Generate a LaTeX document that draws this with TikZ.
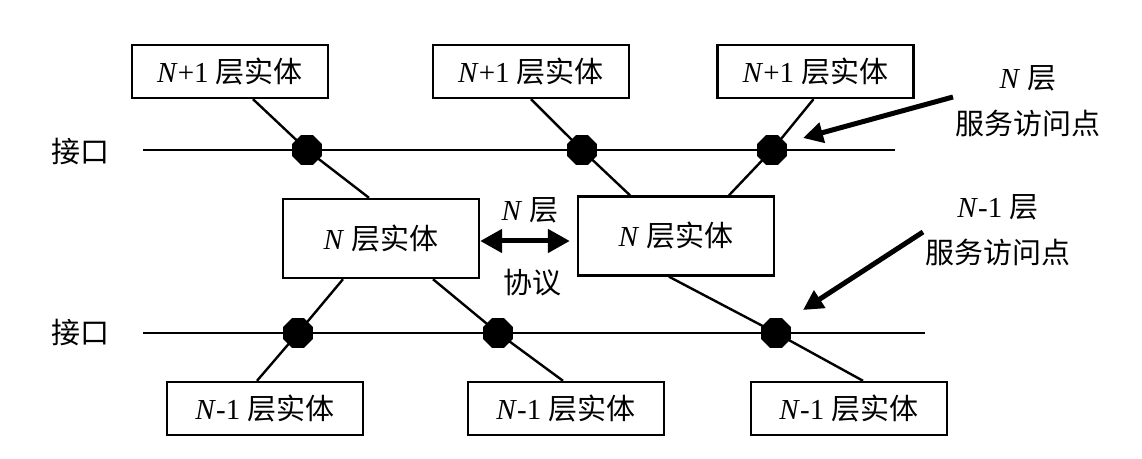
\documentclass[tikz,border=0pt]{standalone}
\usepackage{fontspec}
\setmainfont{Liberation Serif}
\newfontfamily\cjk{Noto Sans CJK SC}
\usetikzlibrary{arrows.meta,shapes.geometric}

\def\Nit{\textit{N}}
\def\layer#1{#1\ {\cjk 层实体}}

\tikzset{
  entity/.style={draw,line width=1.2pt,minimum width=98pt,minimum height=26.5pt,inner sep=0pt},
  midentity/.style={entity,minimum height=39.5pt},
  sap/.style={regular polygon,regular polygon sides=8,fill=black,minimum size=16pt,inner sep=0pt},
  link/.style={line width=1.2pt},
  bigarrow/.style={line width=2.5pt,-{Triangle[length=10pt,width=10pt]}},
  protarrow/.style={line width=2.5pt,{Triangle[length=11pt,width=11.5pt]}-{Triangle[length=11pt,width=11.5pt]}}
}

\begin{document}
\begin{tikzpicture}[x=0.5pt,y=-0.5pt,font=\fontsize{14.5}{23}\selectfont]
\useasboundingbox (0,0) rectangle (1142,459);
% entities
\node[entity] (t1) at (230,71.5) {\layer{\Nit+1}};
\node[entity] (t2) at (531,71.5) {\layer{\Nit+1}};
\node[entity] (t3) at (815.5,71.5) {\layer{\Nit+1}};
\node[midentity] (m1) at (381,238.5) {\layer{\Nit}};
\node[midentity] (m2) at (676,236) {\layer{\Nit}};
\node[entity] (b1) at (265,408.5) {\layer{\Nit-1}};
\node[entity] (b2) at (566,408.5) {\layer{\Nit-1}};
\node[entity] (b3) at (849,408.5) {\layer{\Nit-1}};
% interfaces
\coordinate (i1a) at (143,150); \coordinate (i1b) at (895,150);
\coordinate (i2a) at (143,333); \coordinate (i2b) at (925,333);
\draw[link] (i1a) -- (i1b);
\draw[link] (i2a) -- (i2b);
\node (if1) at (80,152) {\cjk 接口};
\node (if2) at (80,333) {\cjk 接口};
% access points
\foreach \n/\p in {d1/{307,150},d2/{582,150},d3/{772,150},e1/{298,333},e2/{498,333},e3/{776,333}}
  \node[sap] (\n) at (\p) {};
\draw[link] ([xshift=11.5pt]t1.south) -- (d1.center) -- ([xshift=-6pt]m1.north);
\draw[link] (t2.south) -- (d2.center) -- ([xshift=-23pt]m2.north);
\draw[link] ([xshift=-1pt]t3.south) -- (d3.center) -- ([xshift=26.5pt]m2.north);
\draw[link] ([xshift=-19pt]m1.south) -- (e1.center) -- ([xshift=-4pt]b1.north);
\draw[link] ([xshift=26pt]m1.south) -- (e2.center) -- ([xshift=-1.5pt]b2.north);
\draw[link] ([xshift=-3.5pt]m2.south) -- (e3.center) -- ([xshift=7pt]b3.north);
% protocol
\draw[protarrow,shorten >=3.5pt] ([yshift=-1.25pt]m1.east) -- ([yshift=-1.25pt]m1.east -| m2.west);
\node (pn) at (530,210) {\Nit\ {\cjk 层}};
\node (px) at (532,283) {\cjk 协议};
% service access point labels
\node[align=center] (sapN) at (1028,101) {\Nit\ {\cjk 层}\\{\cjk 服务访问点}};
\node[align=center] (sapM) at (998,230) {\Nit-1 {\cjk 层}\\{\cjk 服务访问点}};
\coordinate (tailN) at (953,97); \coordinate (tipN) at (803,138);
\coordinate (tailM) at (923,232); \coordinate (tipM) at (803,310);
\draw[bigarrow] (tailN) -- (tipN);
\draw[bigarrow] (tailM) -- (tipM);
\end{tikzpicture}
\end{document}
